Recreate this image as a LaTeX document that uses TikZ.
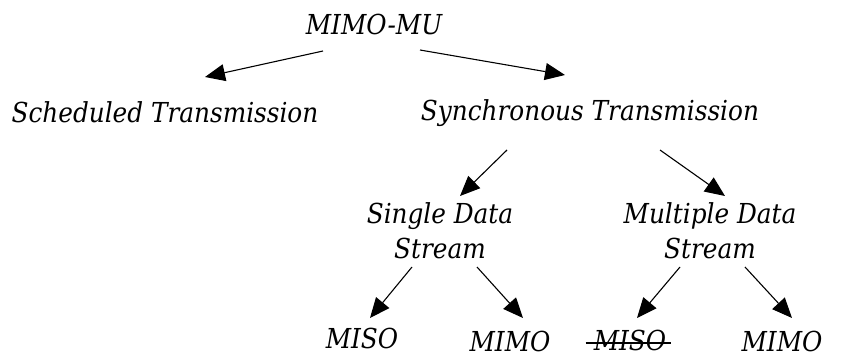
\documentclass[tikz,border=0pt]{standalone}
\usepackage{fontspec}
\setmainfont[ItalicFeatures={FakeStretch=0.9}]{DejaVu Serif}
\usetikzlibrary{arrows.meta}
\begin{document}
\begin{tikzpicture}[x=1pt,y=-1pt,
  lbl/.style={inner sep=0pt, font=\fontsize{27.5}{35}\selectfont\itshape, align=center},
  arr/.style={line width=1.1pt, -{Triangle[length=20pt,width=17pt]}},
  strike/.style={line width=1.3pt}]
\useasboundingbox (0,0) rectangle (862,356);
\node[lbl] (root) at (374,24) {MIMO-MU};
\node[lbl] (sched) at (165,112) {Scheduled Transmission};
\node[lbl] (sync) at (590,113) {Synchronous Transmission};
\node[lbl] (single) at (440,231) {Single Data\\Stream};
\node[lbl] (multi) at (710,231) {Multiple Data\\Stream};
\node[lbl] (miso1) at (362,338) {MISO};
\node[lbl] (mimo1) at (510,341) {MIMO};
\node[lbl] (miso2) at (630,340) {MISO};
\node[lbl] (mimo2) at (782,341) {MIMO};
\coordinate (r1) at (323,51);
\coordinate (r2) at (420,50);
\coordinate (t1) at (205,77);
\coordinate (t2) at (565,75);
\draw[arr] (r1) -- (t1);
\draw[arr] (r2) -- (t2);
\coordinate (s1) at (507,150);
\coordinate (s2) at (660,150);
\coordinate (ts1) at (460,196);
\coordinate (ts2) at (725,196);
\draw[arr] (s1) -- (ts1);
\draw[arr] (s2) -- (ts2);
\coordinate (a1) at (412,267);
\coordinate (a2) at (477,267);
\coordinate (b1) at (680,267);
\coordinate (b2) at (745,267);
\coordinate (ta1) at (370,318);
\coordinate (ta2) at (523,318);
\coordinate (tb1) at (637,318);
\coordinate (tb2) at (792,318);
\draw[arr] (a1) -- (ta1);
\draw[arr] (a2) -- (ta2);
\draw[arr] (b1) -- (tb1);
\draw[arr] (b2) -- (tb2);
\draw[strike] ([xshift=-8pt]miso2.west |- 0,343) -- ([xshift=5pt]miso2.east |- 0,343);
\end{tikzpicture}
\end{document}
